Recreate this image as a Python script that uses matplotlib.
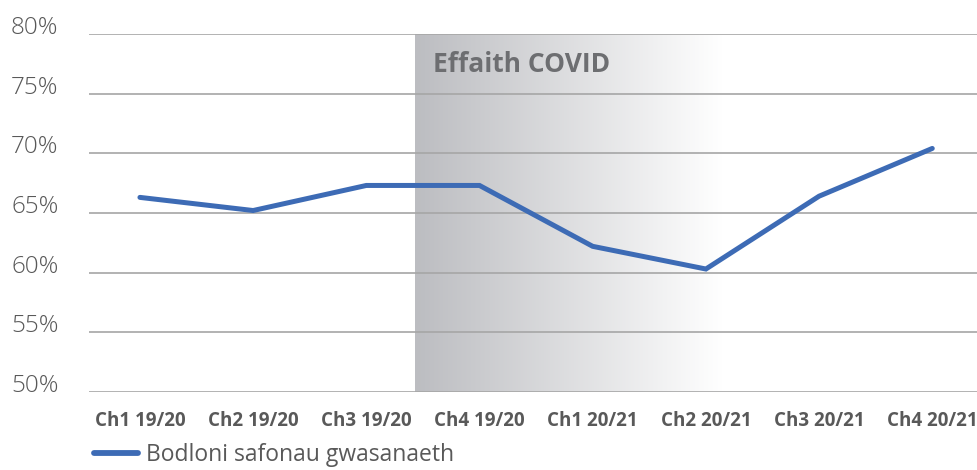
import numpy as np
import matplotlib
matplotlib.use('Agg')
import matplotlib.pyplot as plt

categories = ['Ch1 19/20', 'Ch2 19/20', 'Ch3 19/20', 'Ch4 19/20',
              'Ch1 20/21', 'Ch2 20/21', 'Ch3 20/21', 'Ch4 20/21']
values = [66.3, 65.2, 67.3, 67.3, 62.2, 60.3, 66.4, 70.4]
series_name = 'Bodloni safonau gwasanaeth'
covid_label = 'Effaith COVID'
covid_start, covid_end = 2.43, 5.15
yticks = [50, 55, 60, 65, 70, 75, 80]

plt.rcParams['font.family'] = ['Open Sans', 'DejaVu Sans']

fig = plt.figure(figsize=(9.78, 4.70), dpi=100)
ax = fig.add_axes([0.091, 0.166, 0.912, 0.762])

x = np.arange(len(categories))

# grey fade for the covid period
n = 256
t = np.linspace(0, 1, n)
left = np.array([188, 189, 193]) / 255.0
rgb = left[None, :] * (1 - t[:, None]) + np.ones(3)[None, :] * t[:, None]
grad = rgb[None, :, :]
ax.imshow(grad, extent=[covid_start, covid_end, 50, 80], aspect='auto',
          interpolation='bilinear', zorder=0.2)
ax.text(covid_start + 0.16, 77.45, covid_label, fontsize=19, fontweight='bold',
        color='#6d6e71', va='center', ha='left', zorder=3)

ax.plot(x, values, color='#3d6bb5', linewidth=3.6, solid_capstyle='round',
        solid_joinstyle='miter', zorder=2, label=series_name)

ax.set_xlim(-0.45, 7.43)
ax.set_ylim(50, 80)
ax.set_yticks(yticks)
ax.set_yticklabels([f'{v}%' for v in yticks], fontsize=17.5, color='#595959',
                   fontweight='light')
for lbl in ax.get_yticklabels():
    lbl.set_verticalalignment('baseline')
ax.set_xticks(x)
ax.set_xticklabels(categories, fontsize=13.5, fontweight='bold', color='#595959')
ax.tick_params(axis='both', length=0)
ax.tick_params(axis='y', pad=22)
ax.tick_params(axis='x', pad=14)
ax.grid(axis='y', color='#a6a6a6', linewidth=1.2)
ax.set_axisbelow(True)
for s in ax.spines.values():
    s.set_visible(False)

leg = fig.legend(loc='lower left', bbox_to_anchor=(0.075, -0.038), frameon=False,
                 fontsize=16.5, handlelength=1.9, handletextpad=0.35)
for t_ in leg.get_texts():
    t_.set_color('#595959')
for h in leg.get_lines():
    h.set_linewidth(4.2)

fig.savefig('out.png', dpi=100)
